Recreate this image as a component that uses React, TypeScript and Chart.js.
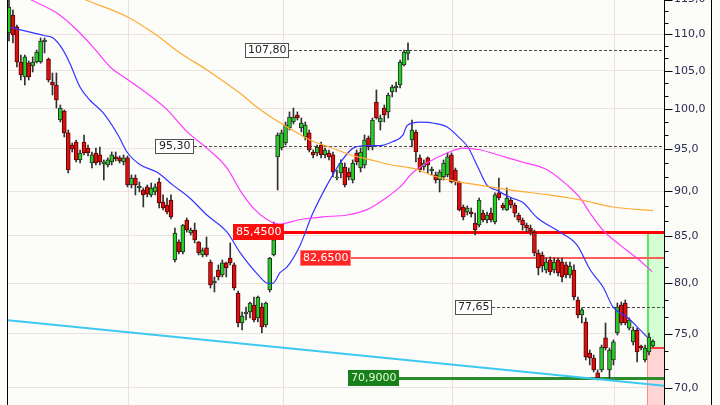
import React, { useEffect, useRef } from 'react';
import { Chart, registerables } from 'chart.js';

Chart.register(...registerables);

// ---- candle data (index 0..163) ----
const openP = [110.18,112.75,111.04,106.17,104.16,106.04,105.63,106.17,106.17,108.92,106.58,103.49,103.09,98.58,99.72,96.96,95.48,95.85,93.67,95.85,95.11,93.31,94.51,94.27,93.19,93.07,93.43,94.03,93.91,93.43,93.91,90.72,91.53,90.37,90.14,90.49,89.57,89.91,91.07,88.76,88.43,88.99,82.42,84.34,83.27,86.75,85.32,85.64,84.34,82.95,83.70,82.21,80.03,81.37,80.86,82.11,82.63,81.90,79.01,76.04,76.92,77.12,77.81,76.53,77.61,75.85,79.32,82.95,94.03,95.11,95.72,97.58,98.33,99.21,97.58,96.46,96.96,94.63,94.51,95.48,94.27,94.51,94.27,91.53,92.12,92.83,92.24,91.30,94.51,92.71,93.07,96.34,95.23,100.88,98.33,100.10,99.60,102.18,102.70,103.09,105.77,107.35,96.09,97.08,93.91,92.83,93.91,92.36,91.89,91.30,91.65,91.89,94.27,92.47,91.07,88.20,87.64,87.64,86.41,86.19,87.52,86.75,87.52,86.52,89.80,88.43,87.86,88.99,88.43,87.30,86.75,86.19,85.86,85.42,83.16,82.95,81.37,82.42,81.37,82.42,82.21,81.90,80.86,81.37,78.31,76.82,76.14,73.18,72.71,71.34,71.61,74.60,71.61,72.53,75.07,77.81,78.01,75.55,74.22,75.36,73.84,72.53,73.27,73.84];
const highP = [115.2,113.47,111.32,107.13,107.13,106.31,106.86,107.81,109.48,109.48,106.72,104.69,104.69,100.49,99.85,97.33,95.72,96.09,94.87,96.71,95.48,94.63,95.11,95.23,93.67,93.91,94.63,94.63,94.15,94.27,94.15,91.89,91.89,91.07,90.37,90.72,90.95,90.84,91.53,89.57,89.22,89.57,85.86,84.56,86.25,86.97,85.86,86.41,84.40,83.70,84.88,82.42,80.65,81.90,82.42,82.20,84.24,82.11,79.22,77.12,77.61,78.11,78.61,78.71,78.01,78.11,82.70,86.52,96.96,97.33,98.33,99.60,100.10,99.60,98.83,98.33,97.33,94.87,95.48,95.85,95.11,94.87,94.63,92.47,93.67,93.31,92.71,93.67,94.87,95.11,96.71,96.59,98.83,102.44,99.21,100.49,102.04,103.09,103.49,106.44,107.81,108.79,98.58,97.33,94.27,93.67,94.03,92.83,92.24,92.47,93.67,94.51,94.51,92.71,91.15,88.43,88.32,88.09,87.52,89.22,87.86,87.64,88.09,89.80,91.53,88.65,90.37,89.22,88.65,87.52,86.97,86.41,86.19,85.64,83.48,83.27,82.63,82.74,82.63,82.63,82.63,82.21,82.21,81.90,78.61,77.51,76.53,73.46,72.99,71.61,73.93,76.04,73.65,74.41,78.01,78.11,78.31,76.53,75.65,75.55,73.93,73.93,75.07,74.41];
const lowP = [109.06,108.79,105.50,103.76,103.09,103.76,104.82,106.04,106.00,107.40,103.49,101.78,100.10,98.33,96.46,92.12,94.63,93.43,93.31,94.27,94.15,92.71,93.07,93.07,91.30,92.83,93.07,93.55,93.31,93.07,90.49,90.37,89.57,89.91,88.20,89.34,89.34,89.57,88.09,87.86,87.41,86.86,82.21,83.06,83.06,85.42,85.10,84.24,82.95,82.74,82.80,79.52,79.12,80.34,80.65,80.65,81.90,79.32,75.65,75.36,76.33,76.53,76.14,76.14,75.07,75.65,79.12,82.85,90.14,94.87,95.48,97.33,98.08,98.58,97.08,96.09,94.63,93.91,94.15,93.91,93.91,93.67,91.65,91.30,91.53,90.49,91.30,90.95,93.07,92.24,92.71,94.87,94.87,98.70,97.33,98.33,98.83,101.53,102.18,102.70,105.63,106.44,95.23,93.43,92.24,92.47,92.12,91.89,90.95,89.91,91.30,91.65,90.95,90.72,87.75,86.75,87.30,87.08,85.10,85.97,86.52,86.41,86.52,86.30,88.99,87.86,87.80,88.09,87.08,86.52,85.64,85.42,85.10,82.85,80.86,81.17,81.07,80.86,81.07,80.75,80.14,80.55,80.55,78.31,76.53,76.04,72.53,72.07,71.43,70.70,71.43,73.46,70.88,72.07,74.88,75.85,75.85,75.36,73.93,72.35,73.46,72.35,72.99,73.74];
const closeP = [113.91,109.90,106.17,104.42,106.86,104.16,106.17,107.54,109.06,109.20,103.76,103.09,101.14,100.10,96.96,92.47,94.99,93.67,94.51,94.51,94.51,94.27,93.31,93.43,93.43,93.67,94.27,93.79,93.55,93.91,90.72,91.53,90.72,90.60,89.57,89.68,90.37,90.49,88.65,88.09,87.64,87.08,85.32,83.27,86.19,85.64,85.64,84.56,83.16,83.48,82.95,79.83,80.24,80.65,82.11,81.58,82.11,79.52,76.04,76.72,77.12,78.01,76.33,78.61,75.65,78.01,82.63,84.56,96.71,96.96,97.95,98.96,98.96,98.83,98.20,97.95,94.87,94.27,95.23,94.27,94.87,94.03,92.24,91.65,93.31,90.72,91.65,93.31,93.43,94.63,96.09,95.23,98.58,98.83,98.83,99.21,101.78,102.83,102.96,106.17,107.54,107.80,97.33,94.63,92.47,93.31,93.07,92.59,91.30,92.24,93.31,94.03,91.07,91.07,87.86,87.08,88.09,87.41,85.64,88.99,86.75,87.30,86.75,89.57,89.22,88.09,89.22,88.43,87.52,86.75,86.19,85.86,85.53,83.16,81.58,81.79,82.21,81.17,82.21,81.07,80.65,80.86,81.79,78.61,76.82,77.32,72.81,72.71,71.61,70.88,73.74,73.65,73.46,74.22,77.61,76.04,76.04,76.33,75.36,73.27,73.65,73.65,74.69,74.31];

// ---- moving averages: [index, value] ----
const blueMA = [[0.25,111.0],[6.1,110.2],[9.1,109.8],[11.1,109.5],[13.7,107.8],[15.4,106.0],[18.0,102.8],[20.5,101.1],[23.8,99.5],[27.6,96.7],[29.9,94.6],[33.2,93.1],[37.5,92.2],[41.5,90.7],[45.8,89.2],[50.1,87.3],[55.2,85.4],[58.5,83.2],[63.0,80.9],[65.6,80.0],[66.8,80.0],[68.6,81.1],[70.4,81.7],[73.7,84.0],[76.7,87.3],[80.5,90.7],[83.8,93.3],[87.1,95.1],[90.6,95.4],[93.9,95.4],[97.2,95.9],[99.7,96.7],[100.8,97.9],[104.1,98.3],[107.3,98.2],[110.9,97.7],[113.7,96.5],[116.2,95.2],[118.7,92.8],[121.0,90.7],[123.5,90.1],[126.8,89.3],[130.1,88.7],[133.7,87.0],[139.5,85.4],[143.8,84.0],[147.1,81.4],[150.4,79.6],[152.9,77.6],[156.5,76.6],[159.7,75.4],[161.5,74.7]];
const magentaMA = [[0,116.7],[5.8,114.9],[12.2,113.0],[17.2,110.6],[21.3,108.2],[25.6,105.5],[30.1,103.8],[34.9,102.0],[40.0,99.9],[45.1,97.1],[50.1,95.1],[55.2,92.7],[58.5,90.1],[61.8,88.1],[65.3,86.8],[68.6,86.3],[73.7,86.8],[79.5,87.1],[85.6,87.3],[90.6,87.9],[94.7,89.0],[99.0,90.5],[102.3,92.2],[105.8,93.3],[110.9,94.5],[114.9,95.1],[119.2,94.9],[124.3,94.2],[130.1,93.4],[136.2,92.5],[141.3,90.7],[144.6,89.2],[147.1,87.5],[150.4,85.6],[154.7,84.0],[159.0,82.6],[162.8,81.2]];
const orangeMA = [[10,117.4],[19.7,114.9],[29.9,112.5],[36.5,110.2],[43.3,107.4],[50.1,105.1],[58.5,102.0],[62.8,100.2],[66.8,98.8],[71.1,97.5],[76.2,96.1],[81.3,95.2],[86.3,94.3],[91.4,93.7],[96.5,93.1],[102.8,92.6],[107.3,91.8],[112.4,91.2],[119.2,90.7],[127.6,90.1],[136.2,89.6],[144.6,89.0],[152.9,88.2],[163.0,87.8]];
const trendLine = [[-0.25,76.32],[165.8,70.17]];

// ---- levels ----
const levelValues = [107.8, 95.3, 85.45, 82.65, 77.65, 70.9];
const levelLabels = ['107,80', '95,30', '85,4500', '82,6500', '77,65', '70,9000'];
const levelLabelIdx = [59.7, 37.0, 56.7, 73.7, 112.9, 85.8];

// ---- zone ----
const zoneStartIdx = 161.5;
const zoneTop = 85.45;
const zoneSplit = 73.65;

// ---- axes ----
const yTicks = [70, 75, 80, 85, 90, 95, 100, 105, 110, 115];
const xGridIdx = [30.1, 69.4, 112.2, 153.2];
const Y_MIN = 68.47;
const Y_MAX = 114.93;
const X_MIN = -0.253;
const X_MAX = 165.8;

const FONT = '"DejaVu Sans", sans-serif';

const dashedStyle = { line: '#4a4a4a', width: 1, dash: [3, 2], box: '#ffffff', border: '#505050', text: '#222222', h: 15 };
const levelStyles = [
  dashedStyle,
  { ...dashedStyle, pad: 4 },
  { line: '#ff0000', width: 3, dash: [], box: '#ff0d0d', border: '#ff0d0d', text: '#ffffff', h: 16 },
  { line: '#ff5c5c', width: 2, dash: [], box: '#ff2626', border: '#ff7a7a', text: '#ffffff', h: 16 },
  dashedStyle,
  { line: '#2c8c2c', width: 3, dash: [], box: '#17801a', border: '#17801a', text: '#e6ffd6', h: 16 },
];

function boxWidth(ctx: CanvasRenderingContext2D, t: string, pad = 3) {
  ctx.font = `11px ${FONT}`;
  return Math.round(ctx.measureText(t).width) + pad * 2;
}

const chartPlugin = {
  id: 'overlay',
  beforeDraw(chart: any) {
    const { ctx } = chart;
    ctx.save();
    ctx.fillStyle = '#fcfdf9';
    ctx.fillRect(0, 0, chart.width, chart.height);
    ctx.restore();
  },
  beforeDatasetsDraw(chart: any) {
    const { ctx, chartArea } = chart;
    const xs = chart.scales.x;
    const ys = chart.scales.y;
    ctx.save();
    ctx.beginPath();
    ctx.rect(chartArea.left, chartArea.top, chartArea.right - chartArea.left, chartArea.bottom - chartArea.top);
    ctx.clip();
    // vertical grid
    ctx.strokeStyle = '#f0dede';
    ctx.lineWidth = 1;
    ctx.beginPath();
    xGridIdx.forEach((g) => {
      const gx = Math.round(xs.getPixelForValue(g)) + 0.5;
      ctx.moveTo(gx, chartArea.top);
      ctx.lineTo(gx, chartArea.bottom);
    });
    ctx.stroke();
    // zone
    const xl = Math.round(xs.getPixelForValue(zoneStartIdx));
    const xr = chartArea.right;
    const yT = Math.round(ys.getPixelForValue(zoneTop));
    const yM = Math.round(ys.getPixelForValue(zoneSplit));
    ctx.fillStyle = '#d4ffd4';
    ctx.fillRect(xl, yT, xr - xl, yM - yT);
    ctx.fillStyle = '#ffd4d4';
    ctx.fillRect(xl, yM, xr - xl, chartArea.bottom - yM);
    ctx.fillStyle = '#5ee65e';
    ctx.fillRect(xl, yT, 2, yM - yT);
    ctx.fillStyle = '#ff8a8a';
    ctx.fillRect(xl, yM, 1, chartArea.bottom - yM);
    ctx.fillStyle = '#ff4040';
    ctx.fillRect(xl, yM - 1, xr - xl, 2);
    // level lines
    levelValues.forEach((v, i) => {
      const st: any = levelStyles[i];
      const x0 = Math.round(xs.getPixelForValue(levelLabelIdx[i])) + boxWidth(ctx, levelLabels[i], st.pad ?? 3);
      const yy = Math.round(ys.getPixelForValue(v)) + (st.width % 2 ? 0.5 : 0);
      ctx.strokeStyle = st.line;
      ctx.lineWidth = st.width;
      ctx.setLineDash(st.dash);
      ctx.beginPath();
      ctx.moveTo(x0, yy);
      ctx.lineTo(chartArea.right, yy);
      ctx.stroke();
    });
    ctx.setLineDash([]);
    ctx.restore();
  },
  afterDatasetsDraw(chart: any) {
    const { ctx } = chart;
    const xs = chart.scales.x;
    const ys = chart.scales.y;
    ctx.save();
    levelValues.forEach((v, i) => {
      const st: any = levelStyles[i];
      const pad = st.pad ?? 3;
      const w = boxWidth(ctx, levelLabels[i], pad);
      const x0 = Math.round(xs.getPixelForValue(levelLabelIdx[i]));
      const yc = Math.round(ys.getPixelForValue(v));
      const top = yc - Math.floor(st.h / 2);
      ctx.fillStyle = st.box;
      ctx.fillRect(x0, top, w, st.h);
      ctx.strokeStyle = st.border;
      ctx.lineWidth = 1;
      ctx.strokeRect(x0 + 0.5, top + 0.5, w - 1, st.h - 1);
      ctx.fillStyle = st.text;
      ctx.font = `11px ${FONT}`;
      ctx.textBaseline = 'middle';
      ctx.textAlign = 'left';
      ctx.fillText(levelLabels[i], x0 + pad, yc + 0.5);
    });
    ctx.restore();
  },
  afterDraw(chart: any) {
    const { ctx, chartArea } = chart;
    const ys = chart.scales.y;
    ctx.save();
    ctx.strokeStyle = '#000000';
    ctx.lineWidth = 1;
    ctx.beginPath();
    const ax = chartArea.right + 0.5;
    yTicks.forEach((v) => {
      const yy = Math.round(ys.getPixelForValue(v)) + 0.5;
      ctx.moveTo(ax, yy);
      ctx.lineTo(ax + 8, yy);
    });
    for (let k = 0; k < yTicks.length - 1; k++) {
      for (let m = 1; m < 3; m++) {
        const v = yTicks[k] + ((yTicks[k + 1] - yTicks[k]) * m) / 3;
        const yy = Math.round(ys.getPixelForValue(v)) + 0.5;
        ctx.moveTo(ax, yy);
        ctx.lineTo(ax + 4, yy);
      }
    }
    ctx.moveTo(7.5, 0);
    ctx.lineTo(7.5, chart.height);
    ctx.moveTo(711.5, 0);
    ctx.lineTo(711.5, chart.height);
    ctx.stroke();
    ctx.restore();
  },
};

export default function App() {
  const ref = useRef<HTMLCanvasElement | null>(null);

  useEffect(() => {
    if (!ref.current) return;
    const idx = openP.map((_, i) => i);
    const up = idx.map((i) => closeP[i] >= openP[i]);
    const lineDs = (pts: number[][], color: string, width: number, order: number, smooth: boolean) => ({
      type: 'line' as const,
      data: pts.map((p) => ({ x: p[0], y: p[1] })),
      borderColor: color,
      borderWidth: width,
      pointRadius: 0,
      fill: false,
      cubicInterpolationMode: smooth ? ('monotone' as const) : ('default' as const),
      tension: 0,
      order,
    });

    const chart = new Chart(ref.current, {
      type: 'bar',
      data: {
        datasets: [
          lineDs(trendLine, '#3cc8f2', 2, 1, false),
          lineDs(orangeMA, '#ffaa33', 1.2, 0, true),
          lineDs(magentaMA, '#ff3cff', 1.2, 0, true),
          lineDs(blueMA, '#3535ff', 1.2, 0, true),
          {
            type: 'bar' as const,
            data: idx.map((i) => ({ x: i, y: [openP[i], closeP[i]] })),
            backgroundColor: up.map((u) => (u ? '#22d022' : '#dd1010')),
            borderColor: up.map((u) => (u ? '#2a2a2a' : '#5a0000')),
            borderWidth: 1,
            borderSkipped: false,
            barThickness: 4,
            grouped: false,
            order: 2,
          },
          {
            type: 'bar' as const,
            data: idx.map((i) => ({ x: i, y: [lowP[i], highP[i]] })),
            backgroundColor: '#303030',
            borderWidth: 0,
            barThickness: 1,
            grouped: false,
            order: 3,
          },
        ] as any,
      },
      options: {
        responsive: false,
        animation: false,
        devicePixelRatio: 1,
        events: [],
        layout: { padding: { left: 8, right: 0, top: 0, bottom: 0 } },
        plugins: { legend: { display: false }, tooltip: { enabled: false } },
        scales: {
          x: {
            type: 'linear',
            min: X_MIN,
            max: X_MAX,
            offset: false,
            bounds: 'data',
            afterFit: (s: any) => {
              s.height = 0;
              s.paddingLeft = 0;
              s.paddingRight = 0;
            },
            ticks: { display: false },
            grid: { display: false, drawTicks: false },
            border: { display: false },
          },
          y: {
            type: 'logarithmic',
            position: 'right',
            min: Y_MIN,
            max: Y_MAX,
            bounds: 'data',
            afterBuildTicks: (s: any) => {
              s.ticks = yTicks.map((v) => ({ value: v }));
            },
            afterFit: (s: any) => {
              s.width = 56;
              s.paddingTop = 0;
              s.paddingBottom = 0;
            },
            ticks: {
              autoSkip: false,
              padding: 10,
              color: '#2d2d50',
              font: { family: FONT, size: 11 },
              callback: (v: any) => Number(v).toFixed(1).replace('.', ','),
            },
            grid: { color: '#ede2e2', drawTicks: false, lineWidth: 1 },
            border: { display: true, color: '#000000', width: 1 },
          },
        },
      } as any,
      plugins: [chartPlugin],
    });
    return () => chart.destroy();
  }, []);

  return (
    <div style={{ position: 'fixed', left: 0, top: 0, width: 720, height: 405 }}>
      <canvas ref={ref} width={720} height={405} style={{ display: 'block' }} />
    </div>
  );
}
